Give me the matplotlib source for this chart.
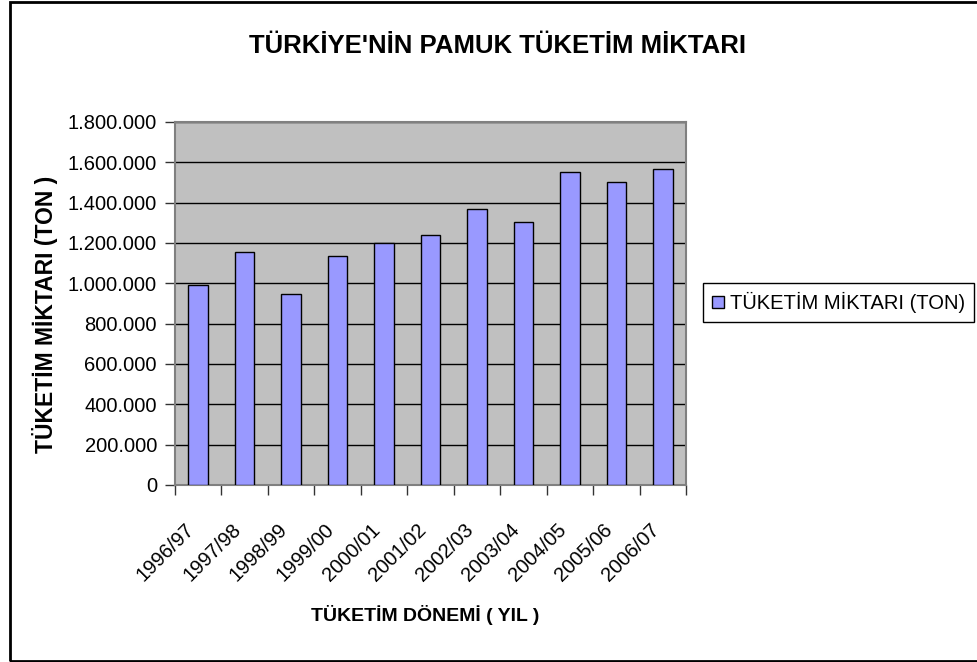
import matplotlib.pyplot as plt
from matplotlib.patches import Rectangle
from matplotlib.ticker import FuncFormatter

donemler = ["1996/97", "1997/98", "1998/99", "1999/00", "2000/01", "2001/02",
            "2002/03", "2003/04", "2004/05", "2005/06", "2006/07"]
tuketim = [993000, 1154000, 949000, 1136000, 1200000, 1239000,
           1370000, 1303000, 1550000, 1502000, 1565000]
y_ticks = [0, 200000, 400000, 600000, 800000, 1000000,
           1200000, 1400000, 1600000, 1800000]

plt.rcParams['font.family'] = ['Liberation Sans', 'DejaVu Sans']

fig = plt.figure(figsize=(9.78, 6.62), dpi=100)
ax = fig.add_axes([175 / 978, 1 - 485 / 662, 511 / 978, 363 / 662])
ax.set_facecolor("#C0C0C0")

x = list(range(len(donemler)))
ax.bar(x, tuketim, width=0.42, color="#9999FF", edgecolor="black",
       linewidth=1, label="TÜKETİM MİKTARI (TON)", zorder=3)

ax.set_ylim(0, 1800000)
ax.set_yticks(y_ticks)
ax.yaxis.set_major_formatter(FuncFormatter(lambda v, p: f"{int(v):,}".replace(",", ".")))
ax.grid(axis="y", color="black", linewidth=1, zorder=1)

# ticks between the bars, labels under the bars
ax.set_xlim(-0.5, len(donemler) - 0.5)
ax.set_xticks([i - 0.5 for i in range(len(donemler) + 1)])
ax.set_xticklabels([])
ax.set_xticks(x, minor=True)
ax.set_xticklabels(donemler, minor=True, rotation=45, ha="right", fontsize=14.5)
ax.tick_params(axis="x", which="minor", length=0, pad=25)
ax.tick_params(axis="x", which="major", length=7, width=1, color="#333333")
ax.tick_params(axis="y", length=7, width=1, labelsize=14.5, pad=6, color="#333333")

for s in ax.spines.values():
    s.set_color("#808080")
    s.set_linewidth(1.5)

fig.text(425 / 978, 1 - 615 / 662, "TÜKETİM DÖNEMİ ( YIL )", ha="center",
         va="center", fontsize=14, fontweight="bold")
fig.text(45 / 978, 1 - 314 / 662, "TÜKETİM MİKTARI (TON )", ha="center",
         va="center", rotation=90, fontsize=16.5, fontweight="bold")
fig.text(498 / 978, 1 - 46 / 662, "TÜRKİYE'NİN PAMUK TÜKETİM MİKTARI",
         ha="center", va="center", fontsize=18.5, fontweight="bold")

leg = fig.legend(loc="upper left", bbox_to_anchor=(703 / 978, 1 - 283 / 662),
                 fontsize=14.5, fancybox=False, framealpha=1, edgecolor="black",
                 handlelength=0.6, handleheight=0.6, handletextpad=0.3,
                 borderaxespad=0, borderpad=0.45)
leg.get_frame().set_linewidth(1)

# outer chart border (right side runs off the picture)
fig.patches.append(Rectangle((10 / 978, 1 / 662), 1.2, 1 - 3 / 662,
                             transform=fig.transFigure, fill=False,
                             edgecolor="black", linewidth=2, clip_on=False))

fig.savefig("out.png", dpi=100)
